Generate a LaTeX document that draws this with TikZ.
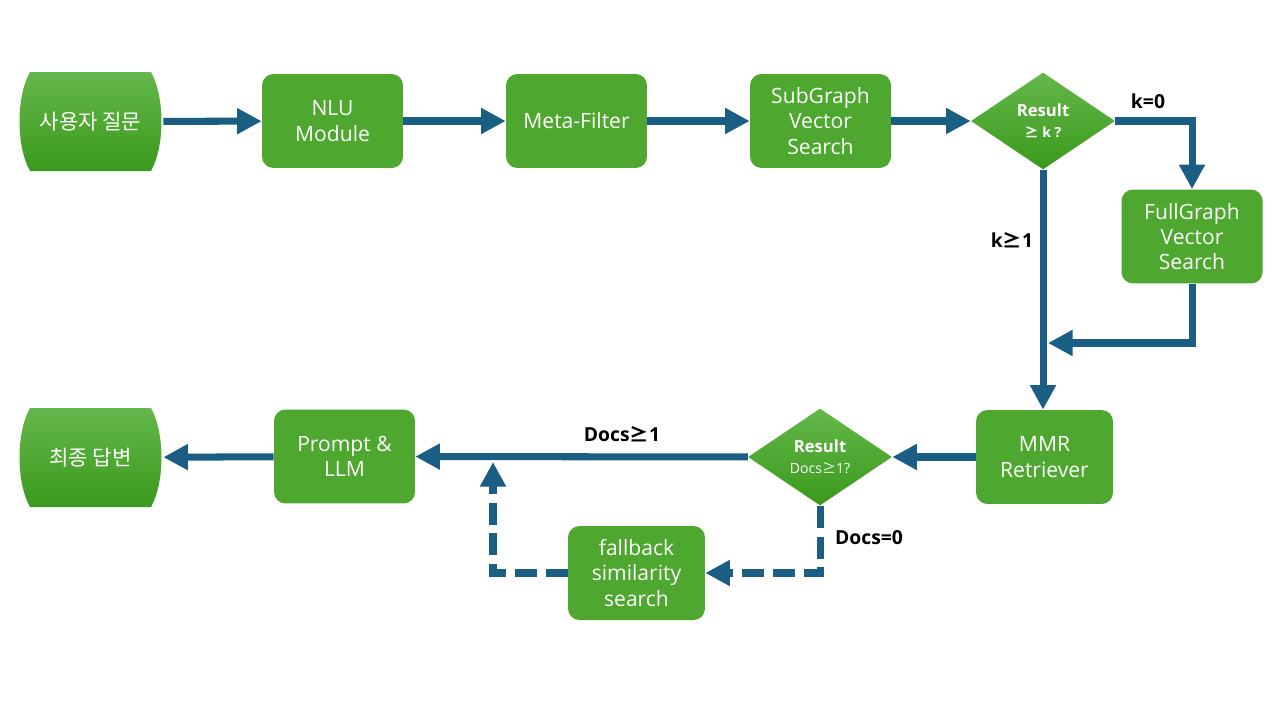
\documentclass[tikz,border=0pt]{standalone}
\usepackage{fontspec}
\setmainfont{Open Sans}
\newfontfamily\krfont{Noto Sans CJK KR}
\usetikzlibrary{arrows.meta,shapes.geometric}
\definecolor{boxgreen}{RGB}{78,167,46}
\definecolor{lightgreen}{RGB}{100,183,74}
\definecolor{darkgreen}{RGB}{58,154,28}
\definecolor{arrowblue}{RGB}{26,94,131}
\newcommand\gesym{{\krfont ≥}}
\begin{document}
\begin{tikzpicture}[x=0.02cm,y=-0.02cm,
 procbox/.style={draw=none, fill=boxgreen, rounded corners=6.5pt, minimum width=2.82cm, minimum height=1.88cm, text=white, align=center, font=\fontsize{12}{14.4}\selectfont, inner sep=0pt},
 termnode/.style={rectangle, draw=none, minimum width=2.9cm, minimum height=1.98cm, inner sep=0pt, text=white, font=\krfont\fontsize{12}{14}\selectfont},
 termfill/.style={top color=lightgreen, bottom color=darkgreen, draw=none},
 decision/.style={diamond, top color=lightgreen, bottom color=darkgreen, draw=none, minimum width=2.88cm, minimum height=1.94cm, inner sep=0pt, aspect=1.48, text=white, align=center},
 flow/.style={draw=arrowblue, line width=4pt, -{Triangle[length=14pt,width=14pt]}},
 dflow/.style={flow, dash pattern=on 12.5pt off 5pt},
 lbl/.style={font=\bfseries\fontsize{11}{13}\selectfont, text=black}
]
\useasboundingbox[fill=white] (0,0) rectangle (1280,720);

% terminal shapes (flat top/bottom, bulging sides)
\shade[termfill] (30,72) -- (151,72) .. controls (165,97) and (165,146) .. (151,171)
  -- (30,171) .. controls (16,146) and (16,97) .. cycle;
\shade[termfill] (30,408) -- (151,408) .. controls (165,433) and (165,482) .. (151,507)
  -- (30,507) .. controls (16,482) and (16,433) .. cycle;

\node[termnode] (start) at (90.5,121.5) {사용자 질문};
\node[procbox] (nlu) at (332.5,121) {NLU\\Module};
\node[procbox] (meta) at (576.5,121) {Meta-Filter};
\node[procbox] (sub) at (820.5,121) {SubGraph\\Vector\\Search};
\node[decision] (dec1) at (1043,121) {{\bfseries\fontsize{9.5}{10}\selectfont Result}\\{\bfseries\fontsize{8}{10}\selectfont \gesym{} k ?}};
\node[procbox] (full) at (1192,236.5) {FullGraph\\Vector\\Search};
\node[procbox, minimum width=2.74cm] (mmr) at (1044.5,457) {MMR\\Retriever};
\node[decision] (dec2) at (820,457) {{\bfseries\fontsize{9.5}{10}\selectfont Result}\\{\fontsize{8}{10}\selectfont Docs\gesym1?}};
\node[procbox] (llm) at (344.5,456.5) {Prompt \&\\LLM};
\node[termnode] (final) at (90.5,457.5) {최종 답변};
\node[procbox, minimum width=2.74cm] (fb) at (636.5,573) {fallback\\similarity\\search};

\node[lbl] (lk0) at (1148,101) {k=0};
\node[lbl] (lk1) at (1012,240) {k\gesym1};
\node[lbl] (ld1) at (622,434) {Docs\gesym1};
\node[lbl] (ld0) at (869,538) {Docs=0};

\coordinate (join) at (1048,343);
\coordinate (up) at (493,462);

\draw[flow] (start) -- (nlu);
\draw[flow] (nlu) -- (meta);
\draw[flow] (meta) -- (sub);
\draw[flow] (sub.east) -- (dec1.west);
\draw[flow] (dec1.east) -| (full.north);
\draw[flow] (dec1.south) -- (dec1.south |- mmr.north);
\draw[flow] (full.south) |- (join);
\draw[flow] (mmr) -- (dec2);
\draw[flow] (dec2) -- (llm);
\draw[flow] (llm) -- (final);
\draw[dflow] (dec2.south) |- (fb.east);
\draw[dflow] (fb.west) -| (up);
\end{tikzpicture}
\end{document}
